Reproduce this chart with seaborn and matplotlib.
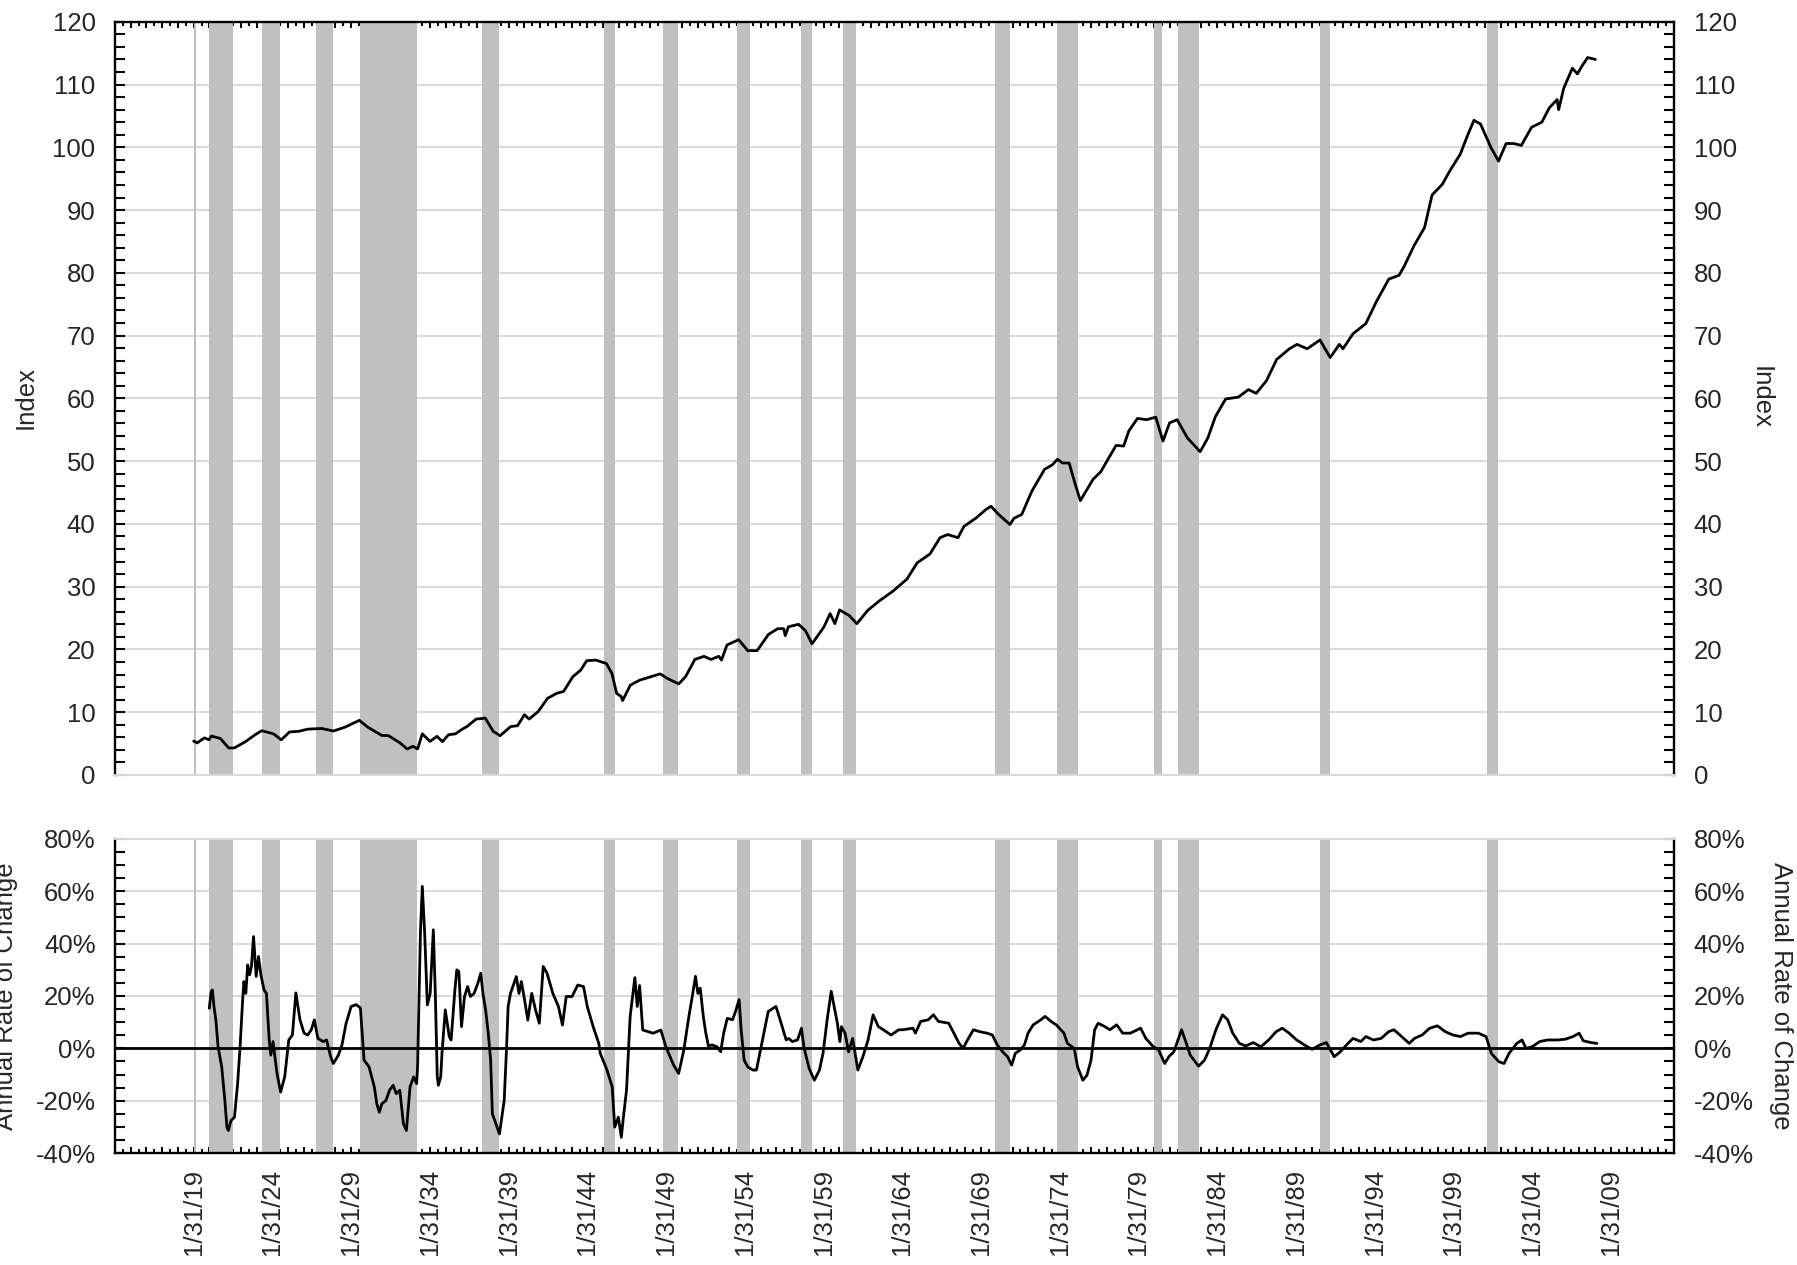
import matplotlib
matplotlib.use("Agg")
import matplotlib.pyplot as plt
import seaborn as sns
import pandas as pd

# Index level (decimal year, value)
idx_year = [1919.08, 1919.3, 1919.76, 1920.05, 1920.2, 1920.78, 1921.3, 1921.66, 1922.4, 1922.98,
            1923.4, 1924.15, 1924.64, 1925.17, 1925.75, 1926.34, 1927.22, 1927.95, 1928.68, 1929.6,
            1930.14, 1931.02, 1931.46, 1932.19, 1932.63, 1933.01, 1933.3, 1933.6, 1934.09, 1934.53,
            1934.88, 1935.26, 1935.7, 1936.14, 1936.43, 1937.02, 1937.6, 1938.1, 1938.54, 1939.21,
            1939.65, 1940.09, 1940.38, 1940.96, 1941.55, 1942.13, 1942.57, 1943.16, 1943.66, 1944.04,
            1944.62, 1945.29, 1945.64, 1945.94, 1946.23, 1946.32, 1946.81, 1947.4, 1948.13, 1948.71,
            1949.15, 1949.88, 1950.32, 1950.91, 1951.49, 1951.93, 1952.43, 1952.6, 1952.95, 1953.69,
            1954.27, 1954.86, 1955.59, 1956.17, 1956.55, 1956.65, 1956.85, 1957.49, 1957.93, 1958.35,
            1959.1, 1959.5, 1959.8, 1960.1, 1960.71, 1961.2, 1961.88, 1962.61, 1963.5, 1964.38,
            1965.03, 1965.84, 1966.48, 1966.97, 1967.62, 1968.0, 1968.75, 1969.4, 1969.72, 1970.2,
            1970.92, 1971.18, 1971.67, 1972.31, 1973.12, 1973.61, 1973.94, 1974.26, 1974.68, 1975.07,
            1975.39, 1976.2, 1976.69, 1977.01, 1977.66, 1978.14, 1978.47, 1979.02, 1979.6, 1980.18,
            1980.64, 1981.06, 1981.54, 1982.19, 1983.0, 1983.49, 1983.97, 1984.62, 1985.43, 1986.07,
            1986.56, 1987.21, 1987.86, 1988.67, 1989.15, 1989.8, 1990.61, 1991.26, 1991.84, 1992.07,
            1992.71, 1993.52, 1994.17, 1994.98, 1995.63, 1995.95, 1996.6, 1997.25, 1997.73, 1998.38,
            1998.87, 1999.52, 2000.0, 2000.39, 2000.81, 2001.46, 2001.95, 2002.43, 2002.92, 2003.4,
            2004.05, 2004.7, 2005.18, 2005.67, 2005.77, 2006.09, 2006.64, 2006.96, 2007.29, 2007.61,
            2008.1]
idx_value = [5.4, 5.1, 5.9, 5.6, 6.2, 5.8, 4.3, 4.3, 5.35, 6.4,
             7.05, 6.55, 5.6, 6.85, 6.95, 7.3, 7.4, 7.0, 7.6, 8.7,
             7.6, 6.3, 6.25, 5.1, 4.15, 4.55, 4.15, 6.55, 5.35, 6.15,
             5.3, 6.4, 6.55, 7.3, 7.7, 8.9, 9.05, 6.95, 6.25, 7.7,
             7.85, 9.6, 8.9, 10.1, 12.2, 13.0, 13.3, 15.65, 16.7, 18.2,
             18.3, 17.75, 16.2, 13.0, 12.5, 11.85, 14.3, 15.1, 15.65, 16.1,
             15.4, 14.5, 15.65, 18.4, 18.9, 18.4, 18.9, 18.3, 20.7, 21.55,
             19.8, 19.8, 22.4, 23.3, 23.3, 22.2, 23.6, 24.0, 23.0, 20.9,
             23.55, 25.7, 24.1, 26.3, 25.4, 24.1, 26.2, 27.7, 29.3, 31.2,
             33.8, 35.2, 37.8, 38.3, 37.8, 39.6, 40.9, 42.3, 42.8, 41.5,
             39.9, 40.9, 41.5, 45.2, 48.7, 49.4, 50.3, 49.7, 49.7, 46.3,
             43.7, 47.1, 48.3, 49.7, 52.5, 52.4, 54.8, 56.8, 56.6, 57.0,
             53.2, 56.1, 56.6, 53.7, 51.5, 53.7, 57.1, 59.9, 60.2, 61.4,
             60.8, 62.8, 66.2, 67.9, 68.6, 67.9, 69.3, 66.5, 68.6, 67.9,
             70.3, 71.9, 75.3, 79.0, 79.6, 81.0, 84.4, 87.2, 92.4, 94.1,
             96.3, 98.9, 102.0, 104.3, 103.7, 100.0, 97.8, 100.6, 100.6, 100.3,
             103.2, 104.0, 106.3, 107.6, 106.0, 109.4, 112.6, 111.7, 113.1, 114.3,
             114.0]

# Annual rate of change in percent
roc_year = [1920.07, 1920.19, 1920.27, 1920.37, 1920.49, 1920.63, 1920.86, 1921.06, 1921.19, 1921.28,
            1921.45, 1921.67, 1921.87, 1922.02, 1922.19, 1922.27, 1922.39, 1922.51, 1922.63, 1922.75,
            1922.88, 1923.05, 1923.2, 1923.35, 1923.55, 1923.7, 1923.88, 1923.98, 1924.12, 1924.37,
            1924.6, 1924.86, 1925.12, 1925.35, 1925.57, 1925.83, 1926.09, 1926.32, 1926.55, 1926.74,
            1926.97, 1927.3, 1927.52, 1927.78, 1927.95, 1928.27, 1928.5, 1928.76, 1929.08, 1929.41,
            1929.67, 1929.9, 1930.22, 1930.55, 1930.71, 1930.87, 1931.03, 1931.29, 1931.52, 1931.75,
            1931.94, 1932.17, 1932.4, 1932.59, 1932.82, 1933.05, 1933.24, 1933.3, 1933.48, 1933.6,
            1933.75, 1933.92, 1934.1, 1934.3, 1934.42, 1934.55, 1934.62, 1934.77, 1934.85, 1935.06,
            1935.31, 1935.43, 1935.67, 1935.79, 1935.92, 1936.09, 1936.28, 1936.48, 1936.65, 1936.89,
            1937.13, 1937.31, 1937.45, 1937.62, 1937.79, 1937.94, 1938.05, 1938.5, 1938.8, 1938.95,
            1939.05, 1939.2, 1939.57, 1939.74, 1939.89, 1940.06, 1940.3, 1940.55, 1940.79, 1941.03,
            1941.28, 1941.52, 1941.89, 1942.25, 1942.5, 1942.74, 1943.11, 1943.47, 1943.84, 1944.08,
            1944.45, 1944.81, 1944.9, 1945.33, 1945.66, 1945.82, 1946.05, 1946.24, 1946.37, 1946.57,
            1946.8, 1946.96, 1947.1, 1947.25, 1947.4, 1947.6, 1948.26, 1948.75, 1949.07, 1949.56,
            1949.88, 1950.21, 1950.53, 1950.75, 1950.95, 1951.1, 1951.25, 1951.45, 1951.6, 1951.77,
            1952.0, 1952.32, 1952.55, 1952.74, 1952.97, 1953.3, 1953.46, 1953.72, 1953.85, 1954.04,
            1954.27, 1954.6, 1954.82, 1955.08, 1955.34, 1955.57, 1955.9, 1956.06, 1956.39, 1956.71,
            1956.87, 1957.1, 1957.43, 1957.68, 1957.85, 1958.17, 1958.5, 1958.82, 1959.05, 1959.31,
            1959.57, 1959.8, 1959.96, 1960.12, 1960.22, 1960.45, 1960.67, 1960.93, 1961.26, 1961.58,
            1961.91, 1962.23, 1962.56, 1962.88, 1963.37, 1963.86, 1964.11, 1964.76, 1964.92, 1965.25,
            1965.73, 1966.06, 1966.38, 1967.03, 1967.36, 1967.69, 1967.95, 1968.17, 1968.6, 1968.98,
            1969.47, 1969.8, 1970.12, 1970.45, 1970.77, 1971.03, 1971.26, 1971.58, 1971.84, 1972.07,
            1972.4, 1972.88, 1973.15, 1973.53, 1973.86, 1974.35, 1974.57, 1975.0, 1975.22, 1975.55,
            1975.81, 1976.07, 1976.3, 1976.52, 1976.95, 1977.27, 1977.7, 1978.08, 1978.57, 1979.22,
            1979.55, 1980.03, 1980.36, 1980.75, 1981.01, 1981.33, 1981.82, 1982.05, 1982.37, 1982.9,
            1983.28, 1983.61, 1984.0, 1984.42, 1984.75, 1985.07, 1985.49, 1985.89, 1986.37, 1986.86,
            1987.35, 1987.83, 1988.22, 1988.65, 1989.13, 1989.62, 1990.11, 1990.6, 1991.02, 1991.51,
            1991.9, 1992.39, 1992.71, 1993.2, 1993.52, 1994.01, 1994.5, 1994.98, 1995.31, 1995.8,
            1996.28, 1996.61, 1997.1, 1997.58, 1998.07, 1998.56, 1999.05, 1999.53, 2000.02, 2000.67,
            2001.16, 2001.49, 2001.97, 2002.3, 2002.62, 2003.11, 2003.44, 2003.7, 2004.08, 2004.57,
            2005.06, 2005.71, 2006.2, 2006.68, 2007.07, 2007.33, 2007.82, 2008.2]
roc_value = [15.3, 21.7, 22.3, 15.9, 10.8, 0.6, -7.1, -19.9, -30.1, -31.4,
             -27.6, -26.3, -13.5, 0.0, 18.5, 25.5, 21.0, 31.9, 28.1, 31.3,
             42.7, 27.5, 35.1, 28.0, 22.3, 21.0, 3.0, -2.6, 2.6, -9.6,
             -16.7, -10.9, 3.2, 5.1, 21.2, 10.9, 5.8, 5.1, 7.1, 10.9,
             3.8, 2.6, 3.2, -3.2, -5.8, -2.6, 1.3, 9.6, 16.0, 16.7,
             15.4, -4.5, -7.1, -14.7, -21.2, -24.4, -21.2, -19.9, -16.0, -14.1,
             -17.3, -16.0, -28.8, -31.4, -14.7, -10.9, -13.5, -7.0, 44.0, 61.9,
             44.0, 16.6, 21.0, 45.3, 22.3, -10.8, -14.1, -10.9, -1.9, 14.7,
             4.5, 3.2, 22.3, 30.0, 29.3, 8.3, 19.8, 23.6, 19.8, 21.0,
             24.9, 28.7, 21.0, 14.7, 5.7, -4.5, -25.0, -32.7, -19.9, 0.0,
             15.9, 21.0, 27.4, 21.0, 25.5, 19.8, 10.8, 21.0, 14.7, 9.6,
             31.3, 28.7, 21.0, 15.9, 8.9, 19.8, 19.8, 24.2, 23.6, 15.9,
             8.3, 1.9, -1.9, -8.3, -14.7, -30.1, -26.3, -34.0, -26.3, -16.0,
             12.2, 20.0, 27.0, 16.0, 24.0, 7.0, 5.8, 7.0, 0.6, -6.4,
             -9.6, -0.6, 12.2, 20.0, 27.5, 21.0, 23.0, 12.0, 6.0, 0.9,
             1.3, 0.6, -1.3, 5.8, 11.5, 10.9, 13.5, 18.6, 7.1, -4.5,
             -7.1, -8.3, -8.3, -0.6, 7.1, 14.1, 15.4, 16.0, 9.6, 3.2,
             3.8, 2.6, 3.2, 7.7, 0.0, -7.7, -12.2, -8.3, -1.9, 10.9,
             21.8, 14.7, 9.6, 2.6, 8.3, 5.8, -1.3, 3.8, -8.3, -3.2,
             3.2, 12.8, 8.3, 7.1, 5.1, 7.1, 7.1, 7.7, 5.8, 10.3,
             10.9, 12.8, 10.3, 9.6, 5.8, 1.9, 0.0, 2.6, 7.1, 6.4,
             5.8, 5.1, 1.3, -1.3, -3.2, -6.4, -1.9, -0.6, 1.3, 5.8,
             9.0, 10.9, 12.2, 10.3, 9.0, 5.8, 1.9, 0.0, -7.1, -12.2,
             -10.3, -4.5, 7.1, 9.6, 8.3, 7.1, 9.0, 5.8, 5.8, 7.7,
             3.8, 0.6, -0.6, -5.8, -3.2, -1.3, 7.1, 3.2, -2.6, -6.8,
             -4.5, 0.0, 7.1, 12.8, 10.9, 5.8, 1.9, 0.9, 2.2, 0.6,
             3.2, 6.4, 7.7, 5.8, 3.2, 1.3, -0.4, 1.3, 2.2, -3.2,
             -1.3, 1.9, 3.8, 2.6, 4.5, 3.2, 3.8, 6.4, 7.1, 4.5,
             1.9, 3.8, 5.1, 7.7, 8.6, 6.4, 5.1, 4.5, 5.8, 5.8,
             4.5, -1.9, -5.1, -5.8, -1.9, 1.9, 3.2, 0.0, 0.6, 2.6,
             3.2, 3.2, 3.5, 4.5, 5.8, 2.9, 2.2, 1.9]

# Recession shading (year, month), peak month to trough month
rec_start = [(1919, 1), (1920, 1), (1923, 5), (1926, 10), (1929, 8), (1937, 5), (1945, 2), (1948, 11),
             (1953, 7), (1957, 8), (1960, 4), (1969, 12), (1973, 11), (1980, 1), (1981, 7), (1990, 7),
             (2001, 3)]
rec_end = [(1919, 3), (1921, 7), (1924, 7), (1927, 11), (1933, 3), (1938, 6), (1945, 10), (1949, 10),
           (1954, 5), (1958, 4), (1961, 2), (1970, 11), (1975, 3), (1980, 7), (1982, 11), (1991, 3),
           (2001, 11)]

# x-axis labels, one every five years
label_years = [1919, 1924, 1929, 1934, 1939, 1944, 1949, 1954, 1959, 1964,
               1969, 1974, 1979, 1984, 1989, 1994, 1999, 2004, 2009]
label_text = ["1/31/19", "1/31/24", "1/31/29", "1/31/34", "1/31/39", "1/31/44", "1/31/49",
              "1/31/54", "1/31/59", "1/31/64", "1/31/69", "1/31/74", "1/31/79", "1/31/84",
              "1/31/89", "1/31/94", "1/31/99", "1/31/04", "1/31/09"]

idx_ticks = [0, 10, 20, 30, 40, 50, 60, 70, 80, 90, 100, 110, 120]
roc_ticks = [-40, -20, 0, 20, 40, 60, 80]
roc_labels = ["-40%", "-20%", "0%", "20%", "40%", "60%", "80%"]

sns.set_theme(style="white")
plt.rcParams["font.family"] = ["Liberation Sans", "DejaVu Sans"]
plt.rcParams["axes.unicode_minus"] = False

FS = 18.5
GRID = "#d9d9d9"
SHADE = "#c0c0c0"

fig = plt.figure(figsize=(17.97, 12.65), dpi=100)
ax1 = fig.add_axes([0.064, 0.3874, 0.8676, 0.5954])
ax2 = fig.add_axes([0.064, 0.0885, 0.8676, 0.2483])

df_idx = pd.DataFrame({"year": idx_year, "Index": idx_value})
df_roc = pd.DataFrame({"year": roc_year, "Rate": roc_value})

x_lo, x_hi = 1914.11, 2013.1
major_x = [y + 1 / 12 for y in range(1914, 2014)]
minor_x = [y + 7 / 12 for y in range(1914, 2013)]
major_lab = [label_text[label_years.index(y)] if y in label_years else "" for y in range(1914, 2014)]

for ax in (ax1, ax2):
    for (ys, ms), (ye, me) in zip(rec_start, rec_end):
        ax.axvspan(ys + ms / 12, ye + me / 12, color=SHADE, lw=0, zorder=1)
    ax.set_xlim(x_lo, x_hi)
    ax.set_axisbelow(True)
    ax.yaxis.grid(True, color=GRID, lw=1.4)
    ax.xaxis.grid(False)
    for s in ("left", "right", "top", "bottom"):
        ax.spines[s].set_color("black")
        ax.spines[s].set_linewidth(1.7)
    ax.set_xticks(major_x)
    ax.set_xticks(minor_x, minor=True)
    ax.tick_params(axis="y", which="both", direction="in", length=7, width=1.5, color="black",
                   left=True, right=True, labelleft=True, labelright=True, labelsize=FS, pad=14)
    ax.tick_params(axis="x", which="major", direction="in", length=4.5, width=1.4, color="black")
    ax.tick_params(axis="x", which="minor", direction="in", length=3, width=1.4, color="black")

# top panel: index
sns.lineplot(data=df_idx, x="year", y="Index", ax=ax1, color="black", lw=2.0, zorder=3)
ax1.set_ylim(0, 120)
ax1.set_yticks(idx_ticks, [str(t) for t in idx_ticks])
ax1.set_yticks(list(range(0, 121, 2)), minor=True)
ax1.xaxis.tick_top()
ax1.tick_params(axis="x", which="both", top=True, bottom=False, labeltop=False, labelbottom=False)
ax1.spines["bottom"].set_color(GRID)
ax1.spines["bottom"].set_linewidth(1.4)
ax1.set_xlabel("")
ax1.set_ylabel("")

# bottom panel: annual rate of change
ax2.axhline(0, color="black", lw=2, zorder=2.5)
sns.lineplot(data=df_roc, x="year", y="Rate", ax=ax2, color="black", lw=2.0, zorder=3)
ax2.set_ylim(-40, 80)
ax2.set_yticks(roc_ticks, roc_labels)
ax2.set_yticks(list(range(-40, 81, 5)), minor=True)
ax2.set_xticks(major_x, major_lab)
ax2.tick_params(axis="x", which="both", top=False, bottom=True, labelbottom=True,
                labelsize=FS, labelrotation=90, pad=11.5)
ax2.spines["top"].set_color(GRID)
ax2.spines["top"].set_linewidth(1.4)
ax2.set_xlabel("")
ax2.set_ylabel("")

# axis titles on both sides
fig.text(0.0145, 0.6854, "Index", rotation=90, ha="center", va="center", fontsize=FS)
fig.text(0.980, 0.6854, "Index", rotation=270, ha="center", va="center", fontsize=FS)
fig.text(0.0033, 0.2126, "Annual Rate of Change", rotation=90, ha="center", va="center", fontsize=FS)
fig.text(0.9909, 0.2126, "Annual Rate of Change", rotation=270, ha="center", va="center", fontsize=FS)

fig.savefig("out.png", dpi=100, facecolor="white")
